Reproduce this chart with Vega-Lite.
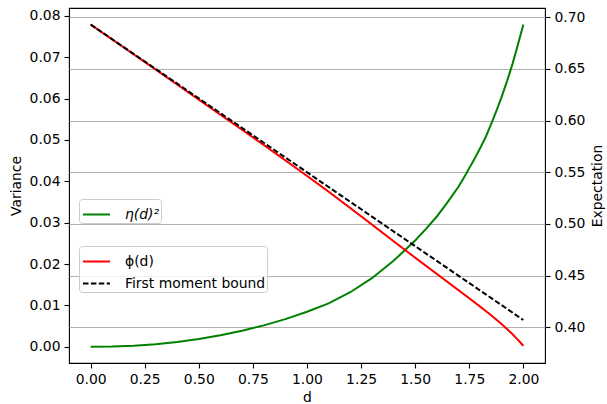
{
  "$schema": "https://vega.github.io/schema/vega-lite/v6.json",
  "width": 476,
  "height": 355,
  "autosize": {"type": "none"},
  "padding": {"left": 69, "top": 8, "right": 62, "bottom": 41},
  "background": "white",
  "config": {
    "font": "DejaVu Sans",
    "view": {"stroke": "black", "strokeWidth": 1.1},
    "axis": {
      "labelFontSize": 13.9,
      "titleFontSize": 13.9,
      "titleFontWeight": "normal",
      "labelColor": "black",
      "titleColor": "black",
      "tickColor": "black",
      "tickWidth": 1.1,
      "tickSize": 5,
      "labelPadding": 4,
      "domain": false,
      "grid": false,
      "labelFlush": false,
      "labelOverlap": false
    },
    "legend": {
      "symbolType": "stroke",
      "symbolStrokeWidth": 2,
      "symbolSize": 729,
      "symbolOffset": 2,
      "labelFontSize": 13.9,
      "labelColor": "black",
      "labelOffset": 14,
      "strokeColor": "#cccccc",
      "fillColor": "rgba(255,255,255,0.8)",
      "cornerRadius": 3,
      "padding": 1,
      "rowPadding": -5,
      "orient": "none",
      "title": null
    }
  },
  "datasets": {
    "var": [
      {"d": 0.0, "v": 0.0, "s": "η(d)²"},
      {"d": 0.1, "v": 0.00007, "s": "η(d)²"},
      {"d": 0.2, "v": 0.00028, "s": "η(d)²"},
      {"d": 0.3, "v": 0.00064, "s": "η(d)²"},
      {"d": 0.4, "v": 0.00117, "s": "η(d)²"},
      {"d": 0.5, "v": 0.0019, "s": "η(d)²"},
      {"d": 0.6, "v": 0.0028, "s": "η(d)²"},
      {"d": 0.7, "v": 0.0039, "s": "η(d)²"},
      {"d": 0.8, "v": 0.0052, "s": "η(d)²"},
      {"d": 0.9, "v": 0.0067, "s": "η(d)²"},
      {"d": 1.0, "v": 0.0085, "s": "η(d)²"},
      {"d": 1.1, "v": 0.0105, "s": "η(d)²"},
      {"d": 1.2, "v": 0.0132, "s": "η(d)²"},
      {"d": 1.3, "v": 0.0166, "s": "η(d)²"},
      {"d": 1.4, "v": 0.0208, "s": "η(d)²"},
      {"d": 1.5, "v": 0.0257, "s": "η(d)²"},
      {"d": 1.55, "v": 0.0285, "s": "η(d)²"},
      {"d": 1.6, "v": 0.0315, "s": "η(d)²"},
      {"d": 1.65, "v": 0.035, "s": "η(d)²"},
      {"d": 1.7, "v": 0.0387, "s": "η(d)²"},
      {"d": 1.725, "v": 0.0409, "s": "η(d)²"},
      {"d": 1.75, "v": 0.0432, "s": "η(d)²"},
      {"d": 1.775, "v": 0.0455, "s": "η(d)²"},
      {"d": 1.8, "v": 0.048, "s": "η(d)²"},
      {"d": 1.825, "v": 0.0506, "s": "η(d)²"},
      {"d": 1.85, "v": 0.0537, "s": "η(d)²"},
      {"d": 1.875, "v": 0.057, "s": "η(d)²"},
      {"d": 1.9, "v": 0.0605, "s": "η(d)²"},
      {"d": 1.925, "v": 0.0643, "s": "η(d)²"},
      {"d": 1.95, "v": 0.0684, "s": "η(d)²"},
      {"d": 1.975, "v": 0.0731, "s": "η(d)²"},
      {"d": 2.0, "v": 0.0779, "s": "η(d)²"}
    ],
    "exp": [
      {"d": 0.0, "e": 0.693, "s": "ϕ(d)"},
      {"d": 0.1, "e": 0.6785, "s": "ϕ(d)"},
      {"d": 0.2, "e": 0.664, "s": "ϕ(d)"},
      {"d": 0.3, "e": 0.6495, "s": "ϕ(d)"},
      {"d": 0.4, "e": 0.6349, "s": "ϕ(d)"},
      {"d": 0.5, "e": 0.6203, "s": "ϕ(d)"},
      {"d": 0.6, "e": 0.6057, "s": "ϕ(d)"},
      {"d": 0.7, "e": 0.5911, "s": "ϕ(d)"},
      {"d": 0.8, "e": 0.5764, "s": "ϕ(d)"},
      {"d": 0.9, "e": 0.5615, "s": "ϕ(d)"},
      {"d": 1.0, "e": 0.5465, "s": "ϕ(d)"},
      {"d": 1.1, "e": 0.5312, "s": "ϕ(d)"},
      {"d": 1.2, "e": 0.5154, "s": "ϕ(d)"},
      {"d": 1.3, "e": 0.4994, "s": "ϕ(d)"},
      {"d": 1.4, "e": 0.4833, "s": "ϕ(d)"},
      {"d": 1.5, "e": 0.4673, "s": "ϕ(d)"},
      {"d": 1.6, "e": 0.4516, "s": "ϕ(d)"},
      {"d": 1.7, "e": 0.4359, "s": "ϕ(d)"},
      {"d": 1.75, "e": 0.428, "s": "ϕ(d)"},
      {"d": 1.8, "e": 0.42, "s": "ϕ(d)"},
      {"d": 1.85, "e": 0.4118, "s": "ϕ(d)"},
      {"d": 1.9, "e": 0.403, "s": "ϕ(d)"},
      {"d": 1.925, "e": 0.3982, "s": "ϕ(d)"},
      {"d": 1.95, "e": 0.3932, "s": "ϕ(d)"},
      {"d": 1.975, "e": 0.3878, "s": "ϕ(d)"},
      {"d": 2.0, "e": 0.382, "s": "ϕ(d)"},
      {"d": 0.0, "e": 0.693, "s": "First moment bound"},
      {"d": 2.0, "e": 0.407, "s": "First moment bound"}
    ]
  },
  "layer": [
    {
      "data": {"name": "var"},
      "mark": {"type": "line", "strokeWidth": 2},
      "encoding": {
        "x": {
          "field": "d", "type": "quantitative",
          "scale": {"domain": [-0.1, 2.1], "nice": false, "zero": false},
          "axis": {"values": [0, 0.25, 0.5, 0.75, 1.0, 1.25, 1.5, 1.75, 2.0], "format": ".2f", "title": "d", "titlePadding": 5}
        },
        "y": {
          "field": "v", "type": "quantitative",
          "scale": {"domain": [-0.0039, 0.0819], "nice": false, "zero": false},
          "axis": {"orient": "left", "values": [0, 0.01, 0.02, 0.03, 0.04, 0.05, 0.06, 0.07, 0.08], "format": ".2f", "title": "Variance", "titlePadding": 6}
        },
        "color": {
          "field": "s", "type": "nominal",
          "scale": {"domain": ["η(d)²"], "range": ["#008000"]},
          "legend": {"legendX": 10, "legendY": 191, "labelFontStyle": "italic"}
        }
      }
    },
    {
      "data": {"name": "exp"},
      "mark": {"type": "line", "strokeWidth": 2},
      "encoding": {
        "x": {"field": "d", "type": "quantitative"},
        "y": {
          "field": "e", "type": "quantitative",
          "scale": {"domain": [0.3654, 0.709], "nice": false, "zero": false},
          "axis": {"orient": "right", "values": [0.4, 0.45, 0.5, 0.55, 0.6, 0.65, 0.7], "format": ".2f", "title": "Expectation", "titleAngle": 270, "titleBaseline": "top", "titlePadding": 6, "grid": true, "gridColor": "#b0b0b0", "gridWidth": 1.1}
        },
        "color": {
          "field": "s", "type": "nominal",
          "scale": {"domain": ["ϕ(d)", "First moment bound"], "range": ["#ff0000", "#000000"]},
          "legend": {"legendX": 10, "legendY": 238}
        },
        "strokeDash": {
          "field": "s", "type": "nominal",
          "scale": {"domain": ["ϕ(d)", "First moment bound"], "range": [[1, 0], [5.5, 2.4]]},
          "legend": {"legendX": 10, "legendY": 238}
        }
      }
    }
  ],
  "resolve": {"scale": {"y": "independent", "color": "independent", "strokeDash": "independent"}}
}
